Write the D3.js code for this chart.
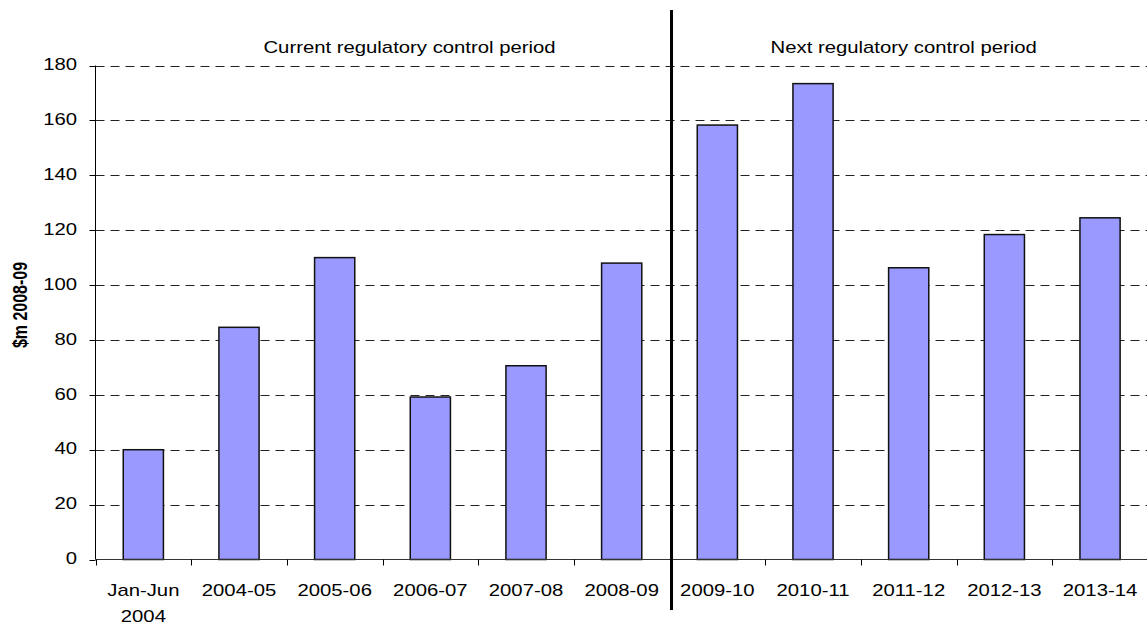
<!DOCTYPE html>
<html>
<head>
<meta charset="utf-8">
<script src="https://cdn.jsdelivr.net/npm/d3@7"></script>
<style>
  html, body { margin: 0; padding: 0; background: #fff; }
  svg { display: block; font-family: "Liberation Sans", Arial, sans-serif; }
</style>
</head>
<body>
<svg id="chart" width="1147" height="626"></svg>
<script>
// Capital expenditure by year, $m 2008-09
const categories = ["Jan-Jun\n2004", "2004-05", "2005-06", "2006-07", "2007-08", "2008-09",
                    "2009-10", "2010-11", "2011-12", "2012-13", "2013-14"];
const values = [40, 84.6, 110, 59.2, 70.6, 108, 158.3, 173.4, 106.3, 118.4, 124.5];
const yTicks = [0, 20, 40, 60, 80, 100, 120, 140, 160, 180];
const periodLabels = ["Current regulatory control period", "Next regulatory control period"];
const yTitle = "$m 2008-09";
const splitAfter = "2008-09";

const svg = d3.select("#chart");
const plotLeft = 95.5, plotTop = 65.5, plotBottom = 559.5, step = 95.67;
const plotRight = plotLeft + step * categories.length;
const sx = 1.27; // horizontal text stretch

const x = d3.scaleBand().domain(categories).range([plotLeft, plotRight])
  .paddingInner(0.58).paddingOuter(0.29);
const y = d3.scaleLinear().domain([0, 180]).range([plotBottom, plotTop]);

// stretched text helper
function label(g, px, py, txt, anchor, opts = {}) {
  return g.append("g").attr("transform", `translate(${px},${py}) scale(${sx},1)`)
    .append("text")
    .attr("text-anchor", anchor)
    .attr("dominant-baseline", "central")
    .attr("font-size", opts.size || 16)
    .attr("fill", "#000")
    .text(txt);
}

// gridlines
svg.append("g").selectAll("line").data(yTicks.filter(d => d > 0)).join("line")
  .attr("x1", plotLeft).attr("x2", plotRight)
  .attr("y1", d => Math.round(y(d)) + 0.5).attr("y2", d => Math.round(y(d)) + 0.5)
  .attr("stroke", "#222").attr("stroke-width", 1)
  .attr("stroke-dasharray", "9,6");

// bars
svg.append("g").selectAll("rect").data(categories).join("rect")
  .attr("x", d => x(d))
  .attr("width", x.bandwidth())
  .attr("y", (d, i) => y(values[i]))
  .attr("height", (d, i) => plotBottom - y(values[i]))
  .attr("fill", "#9999ff")
  .attr("stroke", "#111")
  .attr("stroke-width", 1.5);

// y axis
const yAxis = svg.append("g");
yAxis.append("line").attr("x1", plotLeft).attr("x2", plotLeft).attr("y1", plotTop).attr("y2", plotBottom)
  .attr("stroke", "#000").attr("stroke-width", 1);
yAxis.selectAll("line.tick").data(yTicks).join("line").attr("class", "tick")
  .attr("x1", plotLeft - 6).attr("x2", plotLeft)
  .attr("y1", d => Math.round(y(d)) + 0.5).attr("y2", d => Math.round(y(d)) + 0.5)
  .attr("stroke", "#000");
yTicks.forEach(d => label(yAxis, 77, y(d) - 1, String(d), "end"));

// x axis
const xAxis = svg.append("g");
xAxis.append("line").attr("x1", plotLeft).attr("x2", plotRight).attr("y1", plotBottom).attr("y2", plotBottom)
  .attr("stroke", "#333").attr("stroke-width", 1);
const bounds = d3.range(categories.length + 1).map(i => plotLeft + i * x.step());
xAxis.selectAll("line.tick").data(bounds).join("line").attr("class", "tick")
  .attr("x1", d => Math.round(d) + 0.5).attr("x2", d => Math.round(d) + 0.5)
  .attr("y1", plotBottom).attr("y2", plotBottom + 6)
  .attr("stroke", "#000");
categories.forEach(c => {
  const cx = x(c) + x.bandwidth() / 2;
  c.split("\n").forEach((line, j) => label(xAxis, cx, 590 + j * 26, line, "middle"));
});

// divider between periods
const splitX = x(splitAfter) + x.bandwidth() / 2 + x.step() / 2 + 2;
svg.append("line").attr("x1", splitX).attr("x2", splitX).attr("y1", 10).attr("y2", 610)
  .attr("stroke", "#000").attr("stroke-width", 3);

// period labels
label(svg, (plotLeft + splitX) / 2 + 26, 47, periodLabels[0], "middle");
label(svg, (splitX + plotRight) / 2 - 6, 47, periodLabels[1], "middle");

// y title
svg.append("text")
  .attr("transform", `translate(20,305) scale(${sx},1) rotate(-90)`)
  .attr("text-anchor", "middle")
  .attr("dominant-baseline", "central")
  .attr("font-size", 16).attr("font-weight", "bold")
  .text(yTitle);
</script>
</body>
</html>
